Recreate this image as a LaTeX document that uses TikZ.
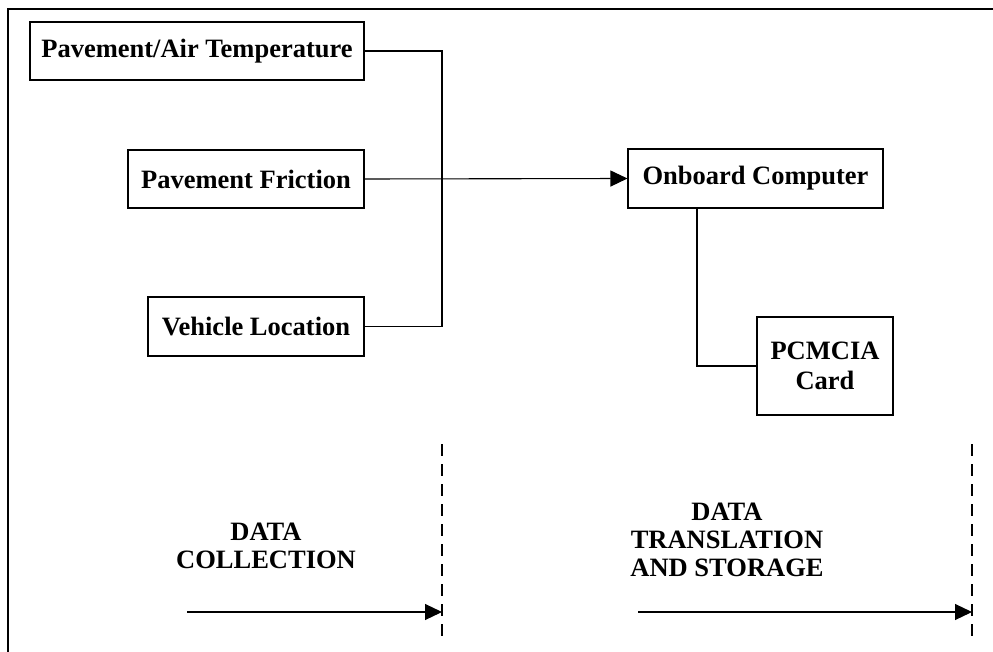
\documentclass[tikz,border=0pt]{standalone}
\usepackage{fontspec}
\setmainfont{Liberation Serif}
\usetikzlibrary{arrows.meta}
\begin{document}
\begin{tikzpicture}[x=1pt,y=-1pt,
  box/.style={draw,line width=1.1pt,inner sep=0pt,align=center,
    font=\fontsize{26.5}{30}\selectfont\bfseries},
  lbl/.style={align=center,inner sep=0pt,font=\fontsize{26.5}{28}\selectfont\bfseries},
  conn/.style={line width=1.1pt},
  arr/.style={line width=1.1pt,-{Triangle[length=17pt,width=16pt]}},
  divider/.style={line width=1.1pt,dash pattern=on 12pt off 8pt}]
\useasboundingbox (0,0) rectangle (993,652);
\draw[line width=2.4pt] (993,9) -- (8,9) -- (8,652);

\node[box,minimum width=334pt,minimum height=58pt] (temp) at (197,51) {Pavement/Air Temperature};
\node[box,minimum width=236pt,minimum height=58pt] (fric) at (246,179) {Pavement Friction};
\node[box,minimum width=216pt,minimum height=59pt] (veh) at (256,326.5) {Vehicle Location};
\node[box,minimum width=255pt,minimum height=59pt] (obc) at (755.5,178.5) {Onboard Computer};
\node[box,minimum width=136pt,minimum height=98pt] (card) at (825,366) {PCMCIA\\Card};

\coordinate (jt) at (442,51);
\coordinate (jb) at (442,326.5);
\draw[conn] (temp.east) -- (jt) -- (jb) -- (veh.east);
\draw[arr] (fric.east) -- (obc.west);
\coordinate (cb) at (697,208);
\draw[conn] (cb) |- (card.west);

\coordinate (d1t) at (442,444);
\coordinate (d1b) at (442,641);
\coordinate (d2t) at (972,444);
\coordinate (d2b) at (972,641);
\draw[divider] (d1t) -- (d1b);
\draw[divider] (d2t) -- (d2b);

\coordinate (a1s) at (187,612);
\coordinate (a1e) at (442,612);
\coordinate (a2s) at (638,612);
\coordinate (a2e) at (972,612);
\draw[arr] (a1s) -- (a1e);
\draw[arr] (a2s) -- (a2e);

\node[lbl] (l1) at (266,546) {DATA\\COLLECTION};
\node[lbl] (l2) at (727,540) {DATA\\TRANSLATION\\AND STORAGE};
\end{tikzpicture}
\end{document}
